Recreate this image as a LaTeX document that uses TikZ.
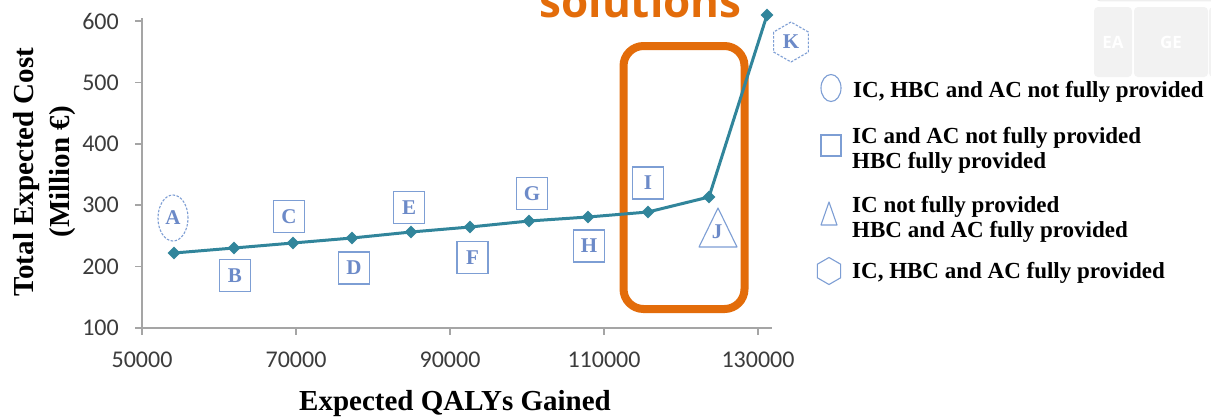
\documentclass[tikz,border=0pt]{standalone}
\usepackage{fontspec}
\setmainfont{Liberation Serif}
\newfontfamily\tickfont{Carlito}
\newfontfamily\osfont{Open Sans}
\usetikzlibrary{shapes.geometric}

\definecolor{series}{RGB}{49,133,155}
\definecolor{axisgray}{RGB}{165,165,165}
\definecolor{ticktext}{RGB}{60,60,60}
\definecolor{lblblue}{RGB}{108,138,200}
\definecolor{lblframe}{RGB}{125,158,212}
\definecolor{hilite}{RGB}{227,108,10}
\definecolor{panel}{RGB}{242,242,242}

\tikzset{
  axis line/.style={draw=axisgray, line width=1.6},
  tick label/.style={text=ticktext, font=\tickfont\fontsize{24}{28}\selectfont, inner sep=0},
  axis title/.style={font=\bfseries\fontsize{29}{34}\selectfont, inner sep=0},
  series line/.style={draw=series, line width=3, line join=round},
  marker/.style={diamond, fill=series, draw=none, inner sep=0, minimum width=13, minimum height=13},
  lbl/.style={text=lblblue, font=\bfseries\fontsize{21}{24}\selectfont, inner sep=0},
  lblbox/.style={lbl, draw=lblframe, line width=1.1, minimum width=31, minimum height=32},
  lgd text/.style={font=\bfseries\fontsize{23}{26}\selectfont, inner sep=0, anchor=base west},
  lgd mark/.style={draw=lblframe, line width=1.1},
  panelbox/.style={fill=panel, rounded corners=4, inner sep=0, text=white,
                   font=\osfont\bfseries\fontsize{17}{20}\selectfont},
}

\begin{document}
\begin{tikzpicture}[x=1pt, y=-1pt]
\useasboundingbox (0,0) rectangle (1211,416);
\begin{scope}
\clip (0,0) rectangle (1211,416);
\fill[white] (0,0) rectangle (1211,416);

% heading fragment
\node[anchor=base, text=hilite, inner sep=0,
      font=\osfont\bfseries\fontsize{44}{50}\selectfont] (heading) at (640.5,17) {solutions};

% toolbar tiles in the corner
\draw[fill=panel, draw=black!12, rounded corners=4] (1096,-30) rectangle (1260,1);
\node[panelbox, minimum width=38, minimum height=70] (tileEA) at (1113,42) {EA};
\node[panelbox, minimum width=74, minimum height=70] (tileGE) at (1171,42) {GE};
\node[panelbox, minimum width=40, minimum height=70] (tileX) at (1229,42) {};

% axes
\draw[axis line] (142,18) -- (142,328) -- (772,328);
\foreach \v/\y in {600/21, 500/82.4, 400/143.8, 300/205.2, 200/266.6, 100/328} {
  \draw[axis line] (135,\y) -- (142,\y);
  \node[tick label, anchor=east] at (119,\y) {\v};
}
\foreach \v/\x in {50000/142, 70000/296, 90000/450, 110000/604, 130000/758} {
  \draw[axis line] (\x,328) -- (\x,335);
  \node[tick label] at (\x,360) {\v};
}

% axis titles
\node[axis title, anchor=base] (xtitle) at (455,410) {Expected QALYs Gained};
\node[axis title, anchor=base, rotate=90] (ytitleA) at (34,172) {Total Expected Cost};
\node[axis title, anchor=base, rotate=90] (ytitleB) at (69,172) {(Million €)};

% data points
\coordinate (pA) at (174,253);
\coordinate (pB) at (234,248);
\coordinate (pC) at (293,243);
\coordinate (pD) at (352,238);
\coordinate (pE) at (411,232);
\coordinate (pF) at (470,227);
\coordinate (pG) at (529,221);
\coordinate (pH) at (588,217);
\coordinate (pI) at (648,212);
\coordinate (pJ) at (709,197);
\coordinate (pK) at (767,15);

% highlighted region
\draw[draw=hilite, line width=8, rounded corners=20] (623.5,46) rectangle (744.5,309);

\draw[series line] (pA) -- (pB) -- (pC) -- (pD) -- (pE) -- (pF) -- (pG) -- (pH) -- (pI) -- (pJ) -- (pK);
\foreach \p in {pA,pB,pC,pD,pE,pF,pG,pH,pI,pJ,pK} {
  \node[marker] at (\p) {};
}

% point labels
\node[lbl, ellipse, draw=lblframe, line width=1.1, dash pattern=on 2.5 off 1.5,
      minimum width=30, minimum height=46] (lA) at (173,218) {A};
\node[lblbox] (lB) at (235,275.5) {B};
\node[lblbox] (lC) at (289,216.5) {C};
\node[lblbox] (lD) at (354,268) {D};
\node[lblbox] (lE) at (409,207.5) {E};
\node[lblbox] (lF) at (472.5,257.5) {F};
\node[lblbox] (lG) at (532,193.5) {G};
\node[lblbox] (lH) at (589,246) {H};
\node[lblbox] (lI) at (648,183) {I};
\node[lbl] (lJ) at (717,232) {J};
\draw[draw=lblframe, line width=1.1, line join=round] (718,208) -- (737,247) -- (699,247) -- cycle;
\node[lbl, regular polygon, regular polygon sides=6, shape border rotate=30,
      draw=lblframe, line width=1.1, dash pattern=on 2.5 off 1.5, minimum size=40] (lK) at (791,42) {K};

% legend
\node[lgd mark, ellipse, inner sep=0, minimum width=20, minimum height=27] (kA) at (831,88) {};
\node[lgd mark, inner sep=0, minimum width=20, minimum height=21] (kB) at (831,145.5) {};
\draw[lgd mark, line join=round] (829,202) -- (837,225) -- (821,225) -- cycle;
\node[lgd mark, regular polygon, regular polygon sides=6, shape border rotate=30,
      inner sep=0, minimum size=27] (kD) at (829,271) {};

\node[lgd text] (tA) at (853,97) {IC, HBC and AC not fully provided};
\node[lgd text] (tB1) at (852,143) {IC and AC not fully provided};
\node[lgd text] (tB2) at (852,168) {HBC fully provided};
\node[lgd text] (tC1) at (852,212) {IC not fully provided};
\node[lgd text] (tC2) at (852,237) {HBC and AC fully provided};
\node[lgd text] (tD) at (852,278) {IC, HBC and AC fully provided};
\end{scope}
\end{tikzpicture}
\end{document}
